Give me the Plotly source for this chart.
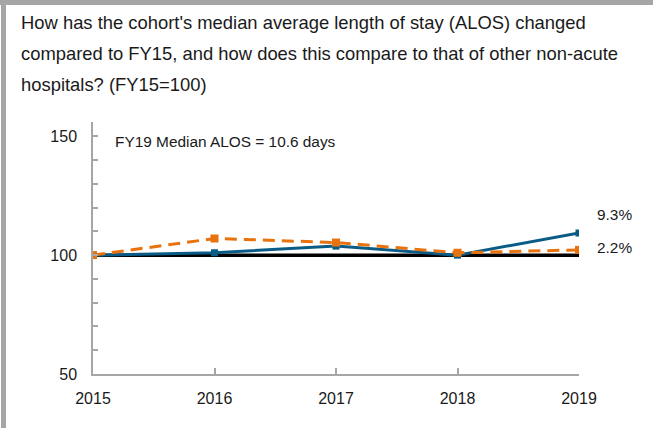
import plotly.graph_objects as go

years = [2015, 2016, 2017, 2018, 2019]
cohort = [100, 101, 103.8, 100, 109.3]
other = [100, 107, 105.3, 101, 102.2]
baseline = [100, 100, 100, 100, 100]
title_lines = [
    "How has the cohort's median average length of stay (ALOS) changed",
    "compared to FY15, and how does this compare to that of other non-acute",
    "hospitals? (FY15=100)",
]
end_labels = ["9.3%", "2.2%"]
note = "FY19 Median ALOS = 10.6 days"

BLUE = "#0A5B85"
ORANGE = "#E8730E"
GRAY = "#A6A6A6"
FONT = "Liberation Sans, Arial, sans-serif"

fig = go.Figure()
fig.add_trace(go.Scatter(x=years, y=baseline, mode="lines",
                         line=dict(color="black", width=3.5), hoverinfo="skip"))
fig.add_trace(go.Scatter(x=years, y=cohort, mode="lines+markers",
                         line=dict(color=BLUE, width=3),
                         marker=dict(symbol="square", size=7, color=BLUE)))
fig.add_trace(go.Scatter(x=years, y=other, mode="lines+markers",
                         line=dict(color=ORANGE, width=3, dash="12px,7px"),
                         marker=dict(symbol="square", size=8, color=ORANGE)))

W, H = 653, 428
L, R, T, B = 93, 74, 122, 54
pw, ph = W - L - R, H - T - B

def px_x(x):
    return (x - L) / pw

def px_y(y):
    return 1 - (y - T) / ph

# gray frame (top and left bars)
fig.add_shape(type="rect", xref="paper", yref="paper",
              x0=px_x(0), x1=px_x(W), y0=px_y(5), y1=px_y(0),
              fillcolor=GRAY, line_width=0, layer="above")
fig.add_shape(type="rect", xref="paper", yref="paper",
              x0=px_x(1), x1=px_x(6), y0=px_y(H), y1=px_y(0),
              fillcolor=GRAY, line_width=0, layer="above")

for i, (line, yc) in enumerate(zip(title_lines, [22, 53, 84])):
    fig.add_annotation(text=line, xref="paper", yref="paper",
                       x=px_x(19), y=px_y(yc), xanchor="left", yanchor="middle",
                       showarrow=False, font=dict(size=18.4, color="#1a1a1a", family=FONT))

fig.add_annotation(text=note, xref="paper", yref="paper",
                   x=px_x(113), y=px_y(141), xanchor="left", yanchor="middle",
                   showarrow=False, font=dict(size=15.4, color="#1a1a1a", family=FONT))

fig.add_annotation(text=end_labels[0], x=years[-1], y=cohort[-1], xref="x", yref="y",
                   xanchor="left", yanchor="middle", xshift=16, yshift=19,
                   showarrow=False, font=dict(size=15.4, color="#1a1a1a", family=FONT))
fig.add_annotation(text=end_labels[1], x=years[-1], y=other[-1], xref="x", yref="y",
                   xanchor="left", yanchor="middle", xshift=16, yshift=2,
                   showarrow=False, font=dict(size=15.4, color="#1a1a1a", family=FONT))

ytv = [50, 60, 70, 80, 90, 100, 110, 120, 130, 140, 150, 156]
ytt = ["50", "", "", "", "", "100", "", "", "", "", "150", ""]

fig.update_layout(
    width=W, height=H,
    margin=dict(l=L, r=R, t=T, b=B),
    paper_bgcolor="white", plot_bgcolor="white",
    showlegend=False,
    font=dict(family=FONT, size=15.4, color="#1a1a1a"),
    xaxis=dict(range=[2015, 2019], tickvals=years, ticktext=[str(y) for y in years],
               showgrid=False, zeroline=False, showline=True, linecolor=GRAY, linewidth=1.5,
               ticks="inside", ticklen=6, tickcolor=GRAY, tickwidth=1.5,
               tickfont=dict(size=16), ticklabelstandoff=9, fixedrange=True),
    yaxis=dict(range=[50, 156], tickvals=ytv, ticktext=ytt,
               showgrid=False, zeroline=False, showline=True, linecolor=GRAY, linewidth=1.5,
               ticks="inside", ticklen=5, tickcolor=GRAY, tickwidth=1.5,
               tickfont=dict(size=16), ticklabelstandoff=11, fixedrange=True),
)

fig.write_html("out.html", config={"displayModeBar": False},
               post_script="document.body.style.margin='0';")
